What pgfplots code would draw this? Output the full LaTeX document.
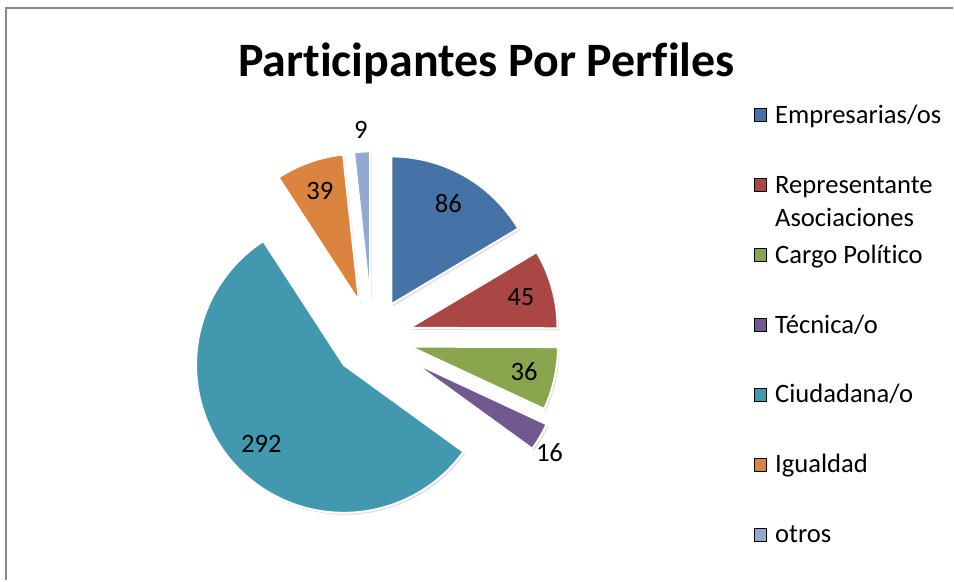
\documentclass[border=0pt]{standalone}
\usepackage{pgfplots}
\pgfplotsset{compat=1.18}
\usepackage{pgfplotstable}
\usepackage{fontspec}
\setmainfont{Carlito}[Ligatures=NoCommon]

\definecolor{pie0}{HTML}{4572A7}
\definecolor{pie1}{HTML}{AA4643}
\definecolor{pie2}{HTML}{89A54E}
\definecolor{pie3}{HTML}{71588F}
\definecolor{pie4}{HTML}{4198AF}
\definecolor{pie5}{HTML}{DB843D}
\definecolor{pie6}{HTML}{93A9CF}
\definecolor{frame}{HTML}{898989}

\newcommand\legfont{\fontsize{13.3}{16.5}\selectfont}
\newcommand\lblfont{\fontsize{13.3}{16}\selectfont}
\newcommand\titlefont{\fontsize{24}{29}\selectfont\bfseries}

% value, explode (px), label distance (fraction of radius), label angle nudge (deg)
\pgfplotstableread{
value explode labpos labturn
86  39 0.78 0
45  39 0.78 0
36  39 0.79 0
16  47 1.11 -3
292 39 0.77 0
39  39 0.79 0
9   39 1.15 0
}\piedata

\begin{document}
\begin{tikzpicture}
\begin{axis}[scale only axis, width=477pt, height=290.5pt,
  xmin=0, xmax=954, ymin=0, ymax=581, y dir=reverse,
  hide axis, clip=false,
  legend style={at={(axis cs:754,101)}, anchor=north west,
    draw=none, fill=none, inner sep=0pt, font=\legfont,
    row sep=21pt, column sep=4pt,
    nodes={inner sep=0pt, text height=11pt, text depth=3pt},
    cells={anchor=west}},
  legend image code/.code={\fill[#1] (0pt,-3.2pt) rectangle (6.4pt,3.2pt);},
]
% page area, frame and title
\path (axis cs:0,0) rectangle (axis cs:954,581);
\draw[frame, line width=1pt] (axis cs:6.5,581) -- (axis cs:6.5,8) -- (axis cs:954,8);
\node[font=\titlefont, anchor=base] at (axis cs:487,77) {Participantes Por Perfiles};

% pie slices, clockwise from 12 o'clock, centre (372.5,338.5), radius 148 px
\pgfplotstablegetrowsof{\piedata}
\pgfmathtruncatemacro\nlast{\pgfplotsretval-1}
\def\total{0}
\pgfplotsforeachungrouped \i in {0,...,\nlast}{%
  \pgfplotstablegetelem{\i}{value}\of\piedata
  \pgfmathsetmacro\total{\total+\pgfplotsretval}}
\def\cum{0}
\pgfplotsforeachungrouped \i in {0,...,\nlast}{%
  \pgfplotstablegetelem{\i}{value}\of\piedata \let\val\pgfplotsretval
  \pgfplotstablegetelem{\i}{explode}\of\piedata \let\expl\pgfplotsretval
  \pgfplotstablegetelem{\i}{labpos}\of\piedata \let\lpos\pgfplotsretval
  \pgfplotstablegetelem{\i}{labturn}\of\piedata \let\lturn\pgfplotsretval
  \pgfmathsetmacro\angA{90-360*(\cum/\total)}
  \pgfmathsetmacro\cum{\cum+\val}
  \pgfmathsetmacro\angB{90-360*(\cum/\total)}
  \pgfmathsetmacro\angM{(\angA+\angB)/2}
  \pgfmathsetmacro\angL{\angM+\lturn}
  \pgfmathsetmacro\tipx{372.5+\expl*cos(\angM)}
  \pgfmathsetmacro\tipy{338.5-\expl*sin(\angM)}
  \pgfmathsetmacro\labx{\tipx+\lpos*148*cos(\angL)}
  \pgfmathsetmacro\laby{\tipy-\lpos*148*sin(\angL)}
  \edef\temp{%
    \noexpand\fill[black, opacity=0.13] ([shift={(0.8pt,-1pt)}]axis cs:\tipx,\tipy)
      -- ++(\angA:74pt) arc[start angle=\angA, end angle=\angB, radius=74pt] -- cycle;
    \noexpand\fill[pie\i, draw=white, line width=1pt, line join=round] (axis cs:\tipx,\tipy)
      -- ++(\angA:74pt) arc[start angle=\angA, end angle=\angB, radius=74pt] -- cycle;
    \noexpand\node[font=\noexpand\lblfont, text=black] at (axis cs:\labx,\laby) {\val};}
  \temp
}

% legend
\addlegendimage{fill=pie0}\addlegendentry{Empresarias/os}
\addlegendimage{fill=pie1}\addlegendentry{\smash{\begin{tabular}[t]{@{}l@{}}Representante\\Asociaciones\end{tabular}}}
\addlegendimage{fill=pie2}\addlegendentry{Cargo Político}
\addlegendimage{fill=pie3}\addlegendentry{Técnica/o}
\addlegendimage{fill=pie4}\addlegendentry{Ciudadana/o}
\addlegendimage{fill=pie5}\addlegendentry{Igualdad}
\addlegendimage{fill=pie6}\addlegendentry{otros}
\end{axis}
\end{tikzpicture}
\end{document}
